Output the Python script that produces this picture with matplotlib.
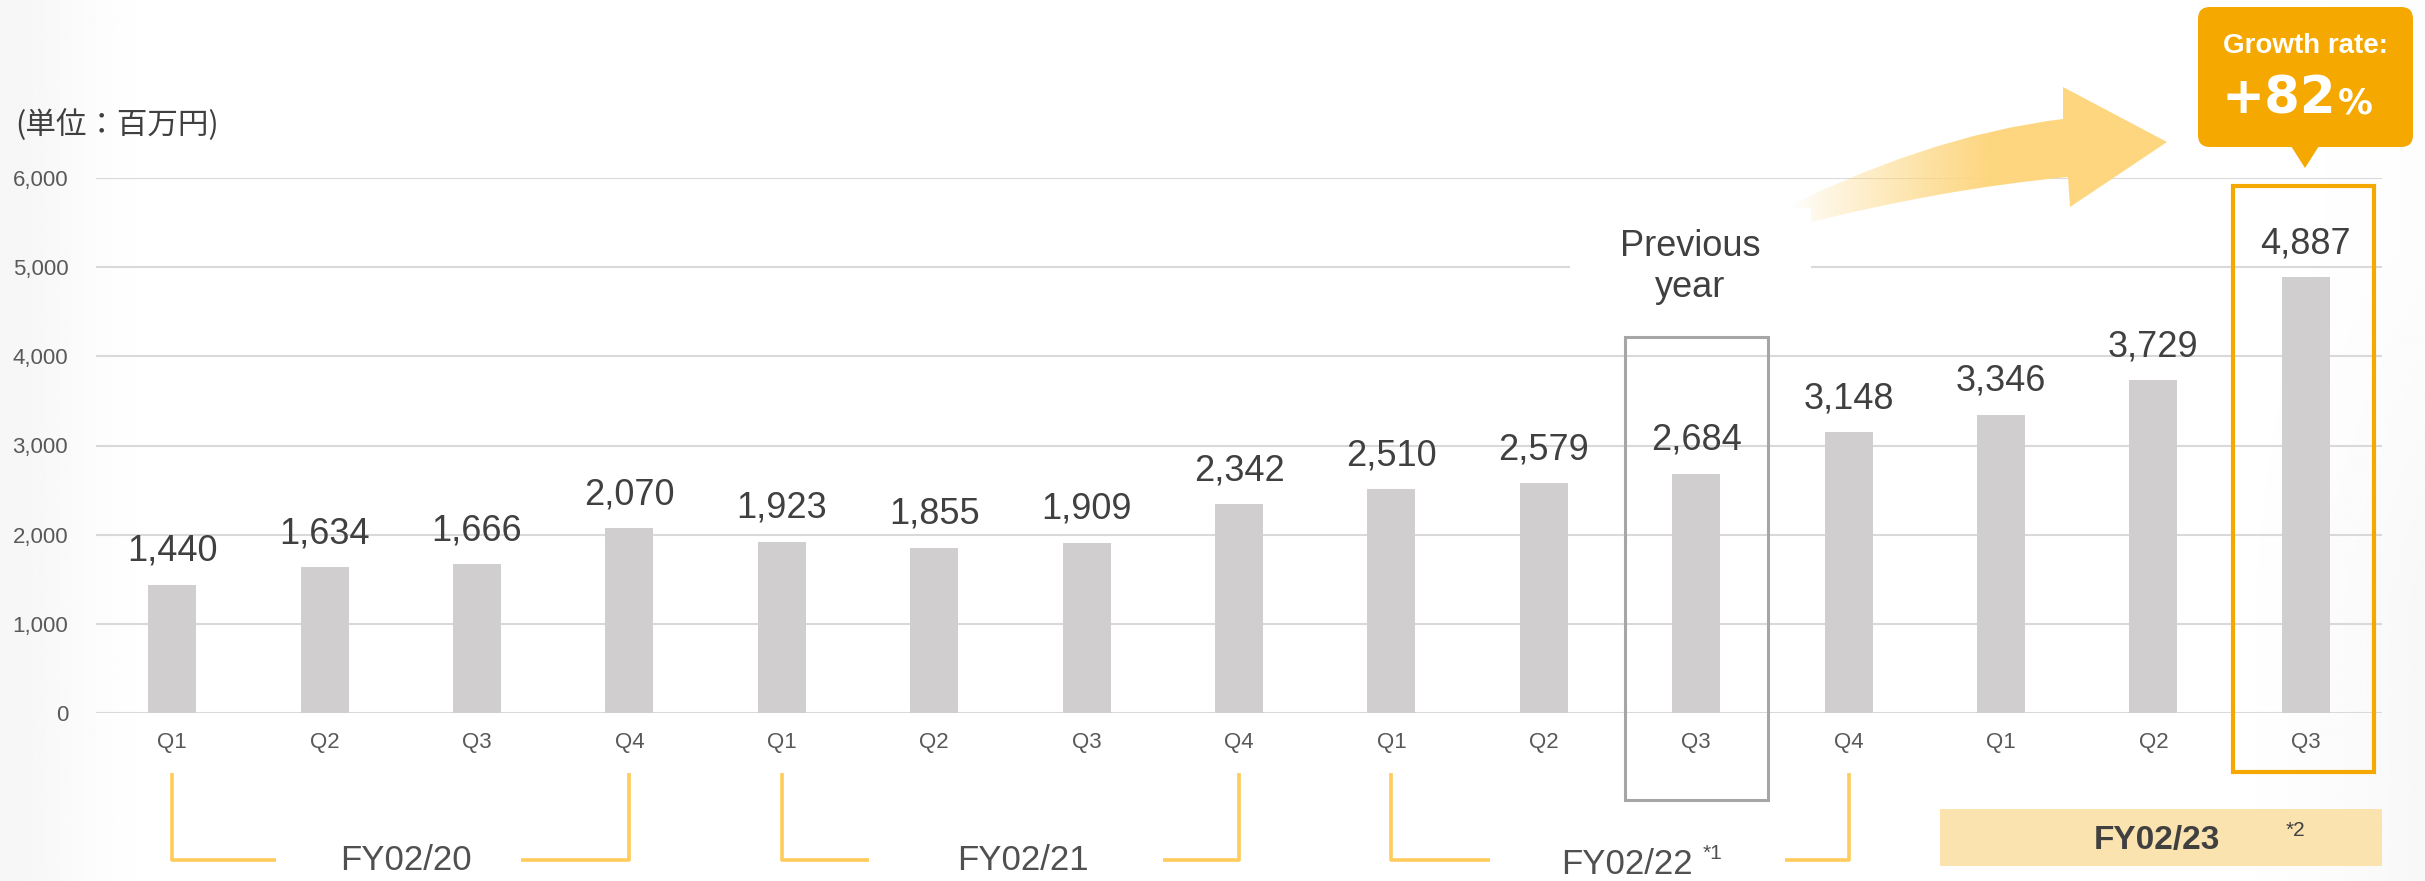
import numpy as np
import matplotlib.pyplot as plt
import matplotlib.transforms as mtransforms
from matplotlib.patches import Rectangle, FancyBboxPatch, Polygon, PathPatch
from matplotlib.path import Path

# データ（単位：百万円）
quarters = ["Q1", "Q2", "Q3", "Q4", "Q1", "Q2", "Q3", "Q4",
            "Q1", "Q2", "Q3", "Q4", "Q1", "Q2", "Q3"]
sales = [1440, 1634, 1666, 2070, 1923, 1855, 1909, 2342,
         2510, 2579, 2684, 3148, 3346, 3729, 4887]
fy_names = ["FY02/20", "FY02/21", "FY02/22"]
fy_start = [0, 4, 8]
fy_end = [3, 7, 11]
fy_notes = ["", "", "*1"]
fy_current = "FY02/23"
yticks = [0, 1000, 2000, 3000, 4000, 5000, 6000]
growth_rate = "+82"

plt.rcParams['font.family'] = ['Liberation Sans', 'Noto Sans CJK JP', 'DejaVu Sans']

W, H = 2425, 881
fig = plt.figure(figsize=(W / 100, H / 100), dpi=100)

# 背景（左端と右端のうすいグレー）
bg = fig.add_axes([0, 0, 1, 1], zorder=-10)
bg.axis("off")
xs = np.linspace(0, W, 970)
ys = np.linspace(0, H, 177)
X, Y = np.meshgrid(xs, ys)
shade = (0.035 * np.exp(-(X / 90) ** 2)
         + 0.03 * np.clip((X - 2200) / 225, 0, 1) ** 1.5 * np.clip((Y - 100) / 500, 0.3, 1))
bg.imshow(1 - shade, cmap="gray", vmin=0, vmax=1, extent=(0, W, H, 0),
          aspect="auto", interpolation="bilinear")
bg.set_xlim(0, W)
bg.set_ylim(H, 0)

ax = fig.add_axes([96 / W, (H - 713) / H, 2286 / W, 535 / H])
ax.patch.set_visible(False)

x = np.arange(len(sales))
ax.bar(x, sales, width=0.315, color="#D0CECE", zorder=2)
ax.set_xlim(-0.5, 14.5)
ax.set_ylim(0, 6000)
ax.set_yticks(yticks)
ax.set_yticklabels([f"{v:,}" for v in yticks])
ax.set_xticks(x)
ax.set_xticklabels(quarters)
ax.grid(axis="y", color="#D9D9D9", lw=1.5, zorder=0)
ax.set_axisbelow(True)
for s in ax.spines.values():
    s.set_visible(False)
ax.tick_params(length=0, labelsize=16, labelcolor="#595959")
ax.tick_params(axis="y", pad=20)
ax.tick_params(axis="x", pad=14)

# 棒の上の値
for i, v in enumerate(sales):
    ax.annotate(f"{v:,}", (i, v), xytext=(0, 24), textcoords="offset points",
                ha="center", va="center", fontsize=26, color="#404040")

# 単位
fig.text(15 / W, 1 - 125 / H, "(単位：百万円)", fontsize=22, color="#404040",
         family=["Noto Sans CJK JP", "DejaVu Sans"], va="center", ha="left")

trans = mtransforms.blended_transform_factory(ax.transData, ax.transAxes)
yellow = "#FFCC5C"

# 年度の括弧
arms = [(0.68, 0.71), (0.57, 0.50), (0.65, 0.42)]
y_top, y_bot = -0.112, -0.275
for name, i0, i1, note, (al, ar) in zip(fy_names, fy_start, fy_end, fy_notes, arms):
    ax.plot([i0, i0, i0 + al], [y_top, y_bot, y_bot], transform=trans,
            clip_on=False, color=yellow, lw=2.6, solid_capstyle="butt")
    ax.plot([i1 - ar, i1, i1], [y_bot, y_bot, y_top], transform=trans,
            clip_on=False, color=yellow, lw=2.6, solid_capstyle="butt")
    if note:
        cx = (i0 + al + i1 - ar) / 2 - 0.07
        ax.text(cx, -0.283, name, transform=trans, ha="center", va="center",
                fontsize=25, color="#505050")
        ax.text(cx + 0.5, -0.262, note, transform=trans, ha="left", va="center",
                fontsize=15, color="#505050")
    else:
        cx = (i0 + al + i1 - ar) / 2 + 0.05
        ax.text(cx, -0.275, name, transform=trans, ha="center", va="center",
                fontsize=25, color="#505050")

# 前年同期の枠
ax.add_patch(Rectangle((9.535, -0.163), 0.935, 0.866, transform=trans,
                       fill=False, ec="#A6A6A6", lw=2.2, clip_on=False, zorder=3))
# 今期の枠
ax.add_patch(Rectangle((13.52, -0.110), 0.93, 1.095, transform=trans,
                       fill=False, ec="#F5A800", lw=3, clip_on=False, zorder=3))
# FY02/23
ax.add_patch(Rectangle((11.6, -0.286), 2.9, 0.107, transform=trans,
                       fc="#FBE3B0", ec="none", clip_on=False, zorder=1))
ax.text(13.02, -0.238, fy_current, transform=trans, ha="center", va="center",
        fontsize=24, fontweight="bold", color="#404040")
ax.text(13.87, -0.219, "*2", transform=trans, ha="left", va="center",
        fontsize=15, color="#404040")

# 上層（ピクセル座標）
ov = fig.add_axes([0, 0, 1, 1], zorder=5)
ov.axis("off")
ov.patch.set_visible(False)

# 矢印
verts = [(1765, 218), (1923, 136), (2063, 119), (2063, 87), (2167, 142),
         (2070, 207), (2068, 177), (1940, 189), (1795, 226), (1765, 218)]
codes = [Path.MOVETO, Path.CURVE3, Path.CURVE3, Path.LINETO, Path.LINETO,
         Path.LINETO, Path.LINETO, Path.CURVE3, Path.CURVE3, Path.CLOSEPOLY]
arrow = PathPatch(Path(verts, codes), fc="none", ec="none")
ov.add_patch(arrow)
grad = np.zeros((2, 256, 4))
grad[..., 0] = 253 / 255
grad[..., 1] = 214 / 255
grad[..., 2] = 127 / 255
grad[..., 3] = np.clip((np.linspace(1740, 2170, 256) - 1790) / 200, 0, 1) ** 0.9
im = ov.imshow(grad, extent=(1740, 2170, 230, 80), aspect="auto", zorder=1,
               interpolation="bilinear")
im.set_clip_path(arrow)
ov.set_xlim(0, W)
ov.set_ylim(H, 0)

# 「Previous year」
ov.add_patch(Rectangle((1570, 208), 241, 112, fc="white", ec="none", zorder=2))
ov.text(1690, 267, "Previous\nyear", ha="center", va="center", fontsize=26,
        color="#404040", linespacing=1.2, zorder=3)

# 成長率の吹き出し
badge = "#F5A800"
ov.add_patch(FancyBboxPatch((2198, 7), 215, 140,
                            boxstyle="round,pad=0,rounding_size=12",
                            fc=badge, ec="none", zorder=3))
ov.add_patch(Polygon([(2291, 146), (2319, 146), (2305, 168)], fc=badge,
                     ec="none", zorder=3))
ov.text(2305, 46, "Growth rate:", ha="center", va="center", fontsize=20,
        fontweight="bold", color="white", zorder=4)
ov.text(2336, 113, growth_rate, ha="right", va="baseline", fontsize=37,
        fontweight="bold", color="white", family="DejaVu Sans", zorder=4)
ov.text(2338, 113, "%", ha="left", va="baseline", fontsize=25,
        fontweight="bold", color="white", family="DejaVu Sans", zorder=4)

fig.savefig("out.png", dpi=100)
